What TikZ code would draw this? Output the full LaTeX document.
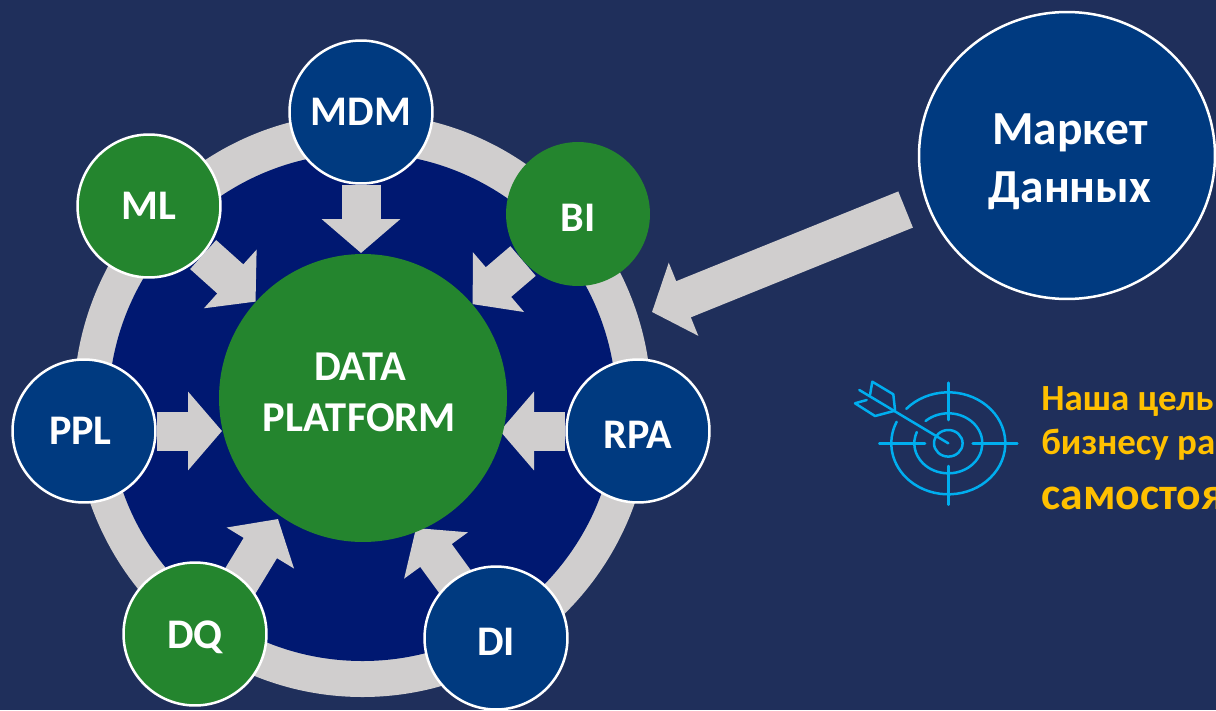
\documentclass[tikz,border=0pt]{standalone}
\usepackage{fontspec}
\setmainfont{Carlito}
\usetikzlibrary{arrows.meta}
\usetikzlibrary{shapes.geometric}
\usetikzlibrary{backgrounds}
\definecolor{fond}{HTML}{1F2F5B}
\definecolor{anneau}{HTML}{D0CECE}
\definecolor{marine}{HTML}{001871}
\definecolor{vert}{HTML}{24852E}
\definecolor{bleu}{HTML}{003A80}
\definecolor{cible}{HTML}{00AEEF}
\definecolor{jaune}{HTML}{FFC000}
\tikzset{
    sat/.style={circle,minimum size=2.86cm,inner sep=0pt,text=white,font=\fontsize{24}{29}\selectfont\bfseries},
    satline/.style={sat,draw=white,line width=0.05cm},
    lowtext/.style={text height=19.5pt},
    bigarrow/.style={draw=anneau,line width=0.78cm,-{Triangle[length=0.68cm,width=1.54cm]}},
    targetline/.style={draw=cible,line width=0.05cm,line cap=round,line join=round},
    goal/.style={anchor=base west,inner sep=0pt,text=jaune,font=\fontsize{21}{25}\selectfont\bfseries}
}
\begin{document}
\begin{tikzpicture}[x=0.02cm,y=-0.02cm]
    \useasboundingbox (0,0) rectangle (1216,710);

    % Centre
    \node[circle,fill=vert,minimum size=5.76cm,inner sep=0pt,text=white,align=center,text depth=6.5pt,font=\fontsize{24.2}{29}\selectfont\bfseries] (platform) at (363,398) {DATA\kern3.4pt\\PLATFORM\kern4pt};

    % Satellites
    \node[satline,fill=bleu] (mdm) at (361,112) {MDM};
    \node[satline,fill=vert] (ml) at (149,206) {ML};
    \node[sat,fill=vert,lowtext,minimum size=2.88cm] (bi) at (578,214) {BI};
    \node[satline,fill=bleu] (ppl) at (84,431) {PPL\kern4pt};
    \node[satline,fill=bleu,lowtext] (rpa) at (638,431) {RPA};
    \node[satline,fill=vert,lowtext] (dq) at (195,634) {DQ};
    \node[satline,fill=bleu,lowtext] (di) at (496,638) {DI};
    \node[ellipse,draw=white,line width=0.05cm,fill=bleu,minimum width=5.92cm,minimum height=5.74cm,inner sep=0pt,text=white,align=center,text height=57.6pt,font=\fontsize{27}{33}\selectfont\bfseries] (market) at (1067,155.5) {\hspace*{3.4pt}Маркет\\\hspace*{3.4pt}Данных};

    % Bouts des fleches
    \coordinate (pplend) at (222,431);
    \coordinate (rpaend) at (500,431);
    \coordinate (dqend) at (278,519);
    \coordinate (diend) at (416,528);
    \coordinate (mdmend) at (361,253);
    \coordinate (ringend) at (652,312);

    % Anneau et fleches sous les disques
    \begin{scope}[on background layer]
        \fill[fond] (0,0) rectangle (1216,710);
        \fill[anneau] (362.5,405) ellipse [x radius=289,y radius=292];
        \fill[marine] (362.5,407) circle (254);
        \draw[bigarrow] (mdm) -- (mdmend);
        \draw[bigarrow] (ml) -- (platform);
        \draw[bigarrow] (bi) -- (platform);
        \draw[bigarrow] (ppl) -- (pplend);
        \draw[bigarrow] (rpa) -- (rpaend);
        \draw[bigarrow] ([xshift=0.26cm]dq.center) -- (dqend);
        \draw[bigarrow] (di.center) -- (diend);
    \end{scope}
    \draw[bigarrow,shorten <=0.43cm] (market.198) -- (ringend);

    % Cible
    \coordinate (target) at (948.3,443.3);
    \draw[targetline] ([shift={(-137.5:57 and 51)}]target) arc[start angle=-137.5,end angle=205,x radius=57,y radius=51];
    \draw[targetline] ([shift={(-132:34 and 30)}]target) arc[start angle=-132,end angle=202,x radius=34,y radius=30];
    \draw[targetline] (target) ellipse [x radius=14.3,y radius=13.3];
    \draw[targetline] (948.3,382.7) -- (948.3,420);
    \draw[targetline] (948.3,466) -- (948.3,504.7);
    \draw[targetline] (879.3,443.3) -- (925,443.3);
    \draw[targetline] (972.7,443.3) -- (1017.3,443.3);
    \draw[targetline] (target) -- (859.3,390);
    \draw[targetline] (870,395) -- (872.3,381.7) -- (893.3,394.3) -- (895,410);
    \draw[targetline] (866.7,400) -- (855,403.3) -- (875,416) -- (895,410.7);

    % Texte
    \node[goal] (goalone) at (1041,410) {Наша цель};
    \node[goal] (goaltwo) at (1041,454) {бизнесу ра};
    \node[goal,font=\fontsize{26}{31}\selectfont\bfseries] (goalthree) at (1041,509) {самостоя};
\end{tikzpicture}
\end{document}
